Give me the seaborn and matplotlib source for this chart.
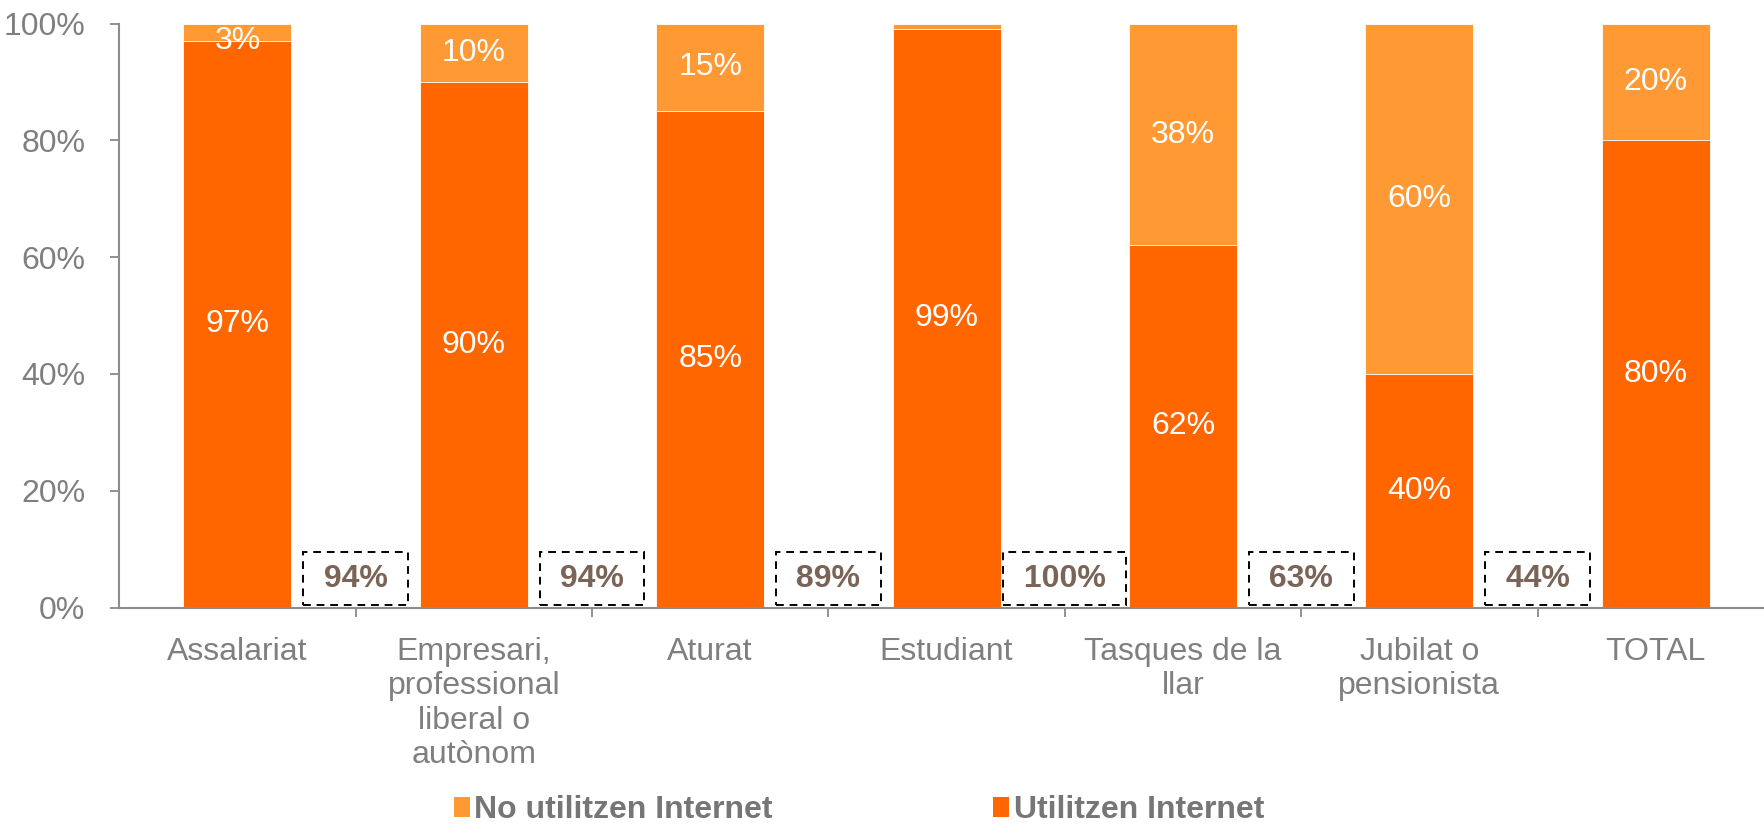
import matplotlib
matplotlib.use("Agg")
import matplotlib.pyplot as plt
import seaborn as sns
import pandas as pd
import numpy as np
from matplotlib.patches import Patch
from matplotlib.ticker import FixedLocator

categories = ["Assalariat", "Empresari,\nprofessional\nliberal o\nautònom", "Aturat",
              "Estudiant", "Tasques de la\nllar", "Jubilat o\npensionista", "TOTAL"]
utilitzen = [97, 90, 85, 99, 62, 40, 80]
no_utilitzen = [3, 10, 15, 1, 38, 60, 20]
box_labels = ["94%", "94%", "89%", "100%", "63%", "44%"]
yticks = [0, 20, 40, 60, 80, 100]

DARK = "#FF6600"
LIGHT = "#FF9933"
GRAY = "#7f7f7f"
BOXTXT = "#7a6457"
FS = 23

sns.set_style("white")
plt.rcParams["font.family"] = ["Liberation Sans", "DejaVu Sans"]

df = pd.DataFrame({"cat": categories, "used": utilitzen, "notused": no_utilitzen})
df["total"] = df["used"] + df["notused"]

fig = plt.figure(figsize=(17.64, 8.27), dpi=100)
ax = fig.add_axes([0.0676, 0.2654, 0.938, 0.7061])

sns.barplot(data=df, x="cat", y="total", color=LIGHT, saturation=1, width=0.457,
            edgecolor="white", linewidth=0.6, ax=ax)
sns.barplot(data=df, x="cat", y="used", color=DARK, saturation=1, width=0.457,
            edgecolor="white", linewidth=0.6, ax=ax)

ax.set_xlim(-0.5, len(categories) - 0.5)
ax.set_ylim(0, 100)
ax.set_xlabel("")
ax.set_ylabel("")

# segment labels
for i, (u, n) in enumerate(zip(utilitzen, no_utilitzen)):
    ax.text(i, u / 2, f"{u}%", ha="center", va="center", color="white", fontsize=FS)
    if n >= 2:
        ax.text(i, min(u + n / 2, 97.0), f"{n}%", ha="center", va="center",
                color="white", fontsize=FS)

# dashed boxes between categories
for j, lab in enumerate(box_labels):
    ax.text(j + 0.5, 4.95, f" {lab} ", ha="center", va="center", color=BOXTXT,
            fontsize=FS, fontweight="bold",
            bbox=dict(boxstyle="square,pad=0.36", facecolor="white", edgecolor="black",
                      linestyle=(0, (4, 3)), linewidth=1.4))

ax.set_yticks(yticks)
ax.set_yticklabels([f"{v}%" for v in yticks])
ax.set_xticks(range(len(categories)))
ax.set_xticklabels(categories, linespacing=1.2)
ax.xaxis.set_minor_locator(FixedLocator([k + 0.5 for k in range(len(categories) - 1)]))

ax.tick_params(axis="y", which="major", left=True, length=6.5, width=1.2, color=GRAY,
               labelsize=FS, labelcolor=GRAY, pad=18)
ax.tick_params(axis="x", which="major", bottom=False, length=0, labelsize=FS,
               labelcolor=GRAY, pad=21)
ax.tick_params(axis="x", which="minor", bottom=True, length=6.5, width=1.2, color=GRAY)

for s in ["top", "right"]:
    ax.spines[s].set_visible(False)
for s in ["left", "bottom"]:
    ax.spines[s].set_color("#8c8c8c")
    ax.spines[s].set_linewidth(1.5)

handles = [Patch(facecolor=LIGHT, edgecolor="none"), Patch(facecolor=DARK, edgecolor="none")]
leg = fig.legend(handles, ["No utilitzen Internet", "Utilitzen Internet"],
                 loc="center", bbox_to_anchor=(0.487, 0.02), ncol=2, frameon=False,
                 fontsize=FS, handlelength=0.5, handleheight=0.6, handletextpad=0.15,
                 columnspacing=6.9, borderpad=0.1)
for t in leg.get_texts():
    t.set_color("#767676")
    t.set_fontweight("bold")

fig.savefig("out.png", dpi=100)
